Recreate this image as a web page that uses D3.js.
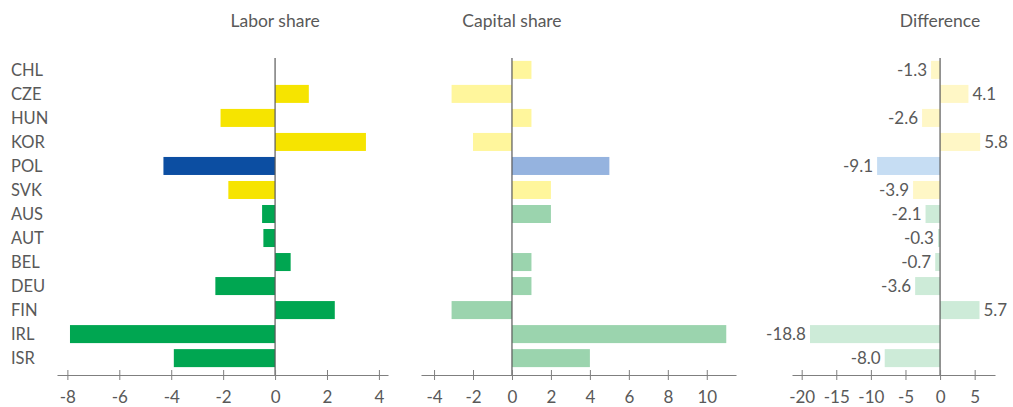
<!DOCTYPE html>
<html>
<head>
<meta charset="utf-8">
<script src="https://cdn.jsdelivr.net/npm/d3@7"></script>
<style>
  body { margin: 0; background: #fff; }
  text { font-family: Lato, "Open Sans", sans-serif; fill: #595959; }
</style>
</head>
<body>
<div id="chart"></div>
<script>
// data
var countries = ["CHL", "CZE", "HUN", "KOR", "POL", "SVK", "AUS", "AUT", "BEL", "DEU", "FIN", "IRL", "ISR"];
var groups = ["y", "y", "y", "y", "b", "y", "g", "g", "g", "g", "g", "g", "g"];
var laborShare = [0, 1.3, -2.1, 3.5, -4.3, -1.8, -0.5, -0.45, 0.6, -2.3, 2.3, -7.9, -3.9];
var capitalShare = [1.0, -3.1, 1.0, -2.0, 5.0, 2.0, 2.0, 0, 1.0, 1.0, -3.1, 11.0, 4.0];
var difference = [-1.3, 4.1, -2.6, 5.8, -9.1, -3.9, -2.1, -0.3, -0.7, -3.6, 5.7, -18.8, -8.0];

var laborTicks = [-8, -6, -4, -2, 0, 2, 4];
var capitalTicks = [-4, -2, 0, 2, 4, 6, 8, 10];
var diffTicks = [-20, -15, -10, -5, 0, 5];

var svgWidth = 1013;
var svgHeight = 407;

var svg = d3.select("#chart")
  .append("svg")
  .attr("width", svgWidth)
  .attr("height", svgHeight);

var rows = countries.map(function(c, i) { return { c: c, i: i, g: groups[i] }; });

var y = d3.scaleBand()
  .domain(countries)
  .range([58, 370])
  .paddingInner(0.25)
  .paddingOuter(0.12);

// category labels
svg.append("g").selectAll("text")
  .data(countries)
  .enter()
  .append("text")
  .attr("x", 11)
  .attr("y", d => y(d) + y.bandwidth() / 2)
  .attr("dy", "0.36em")
  .style("font-size", "16.5px")
  .text(d => d);

var panels = [
  { title: "Labor share", values: laborShare, domain: [-8.4, 4.35], range: [57, 388], ticks: laborTicks,
    colors: { y: "#f6e400", b: "#0c4ea2", g: "#00a651" }, labels: false },
  { title: "Capital share", values: capitalShare, domain: [-4.67, 11.5], range: [421, 736], ticks: capitalTicks,
    colors: { y: "#fff69c", b: "#95b3df", g: "#9bd4ae" }, labels: false },
  { title: "Difference", values: difference, domain: [-21.4, 7.94], range: [792, 995], ticks: diffTicks,
    colors: { y: "#fff7c6", b: "#c6ddf3", g: "#cdebd8" }, labels: true }
];

panels.forEach(function(p) {
  var x = d3.scaleLinear().domain(p.domain).range(p.range);
  var g = svg.append("g");

  // title
  g.append("text")
    .attr("x", x(0))
    .attr("y", 27)
    .attr("text-anchor", "middle")
    .style("font-size", "17.5px")
    .text(p.title);

  // bars
  g.selectAll("rect")
    .data(rows)
    .enter()
    .append("rect")
    .attr("x", d => x(Math.min(0, p.values[d.i])))
    .attr("y", d => y(d.c))
    .attr("width", d => Math.abs(x(p.values[d.i]) - x(0)))
    .attr("height", y.bandwidth())
    .attr("fill", d => p.colors[d.g]);

  // value labels
  if (p.labels) {
    g.selectAll("text.val")
      .data(rows)
      .enter()
      .append("text")
      .attr("class", "val")
      .attr("x", d => p.values[d.i] < 0 ? x(p.values[d.i]) - 4 : x(p.values[d.i]) + 4)
      .attr("y", d => y(d.c) + y.bandwidth() / 2)
      .attr("dy", "0.36em")
      .attr("text-anchor", d => p.values[d.i] < 0 ? "end" : "start")
      .style("font-size", "17px")
      .text(d => p.values[d.i].toFixed(1));
  }

  // zero line
  g.append("line")
    .attr("x1", x(0)).attr("x2", x(0))
    .attr("y1", 58).attr("y2", 375)
    .attr("stroke", "#595959")
    .attr("stroke-width", 1.2);

  // x axis
  var axis = g.append("g")
    .attr("transform", "translate(0,375)")
    .call(d3.axisBottom(x).tickValues(p.ticks).tickFormat(d => String(d))
      .tickSize(0).tickPadding(16).tickSizeOuter(0));
  axis.select(".domain").attr("stroke", "#7f7f7f").attr("stroke-width", 1.2);
  axis.selectAll(".tick line")
    .attr("y1", -5).attr("y2", 5)
    .attr("stroke", "#7f7f7f");
  axis.selectAll(".tick text")
    .style("font-size", "17px")
    .attr("fill", "#595959")
    .style("font-family", "Lato, sans-serif");
});
</script>
</body>
</html>
